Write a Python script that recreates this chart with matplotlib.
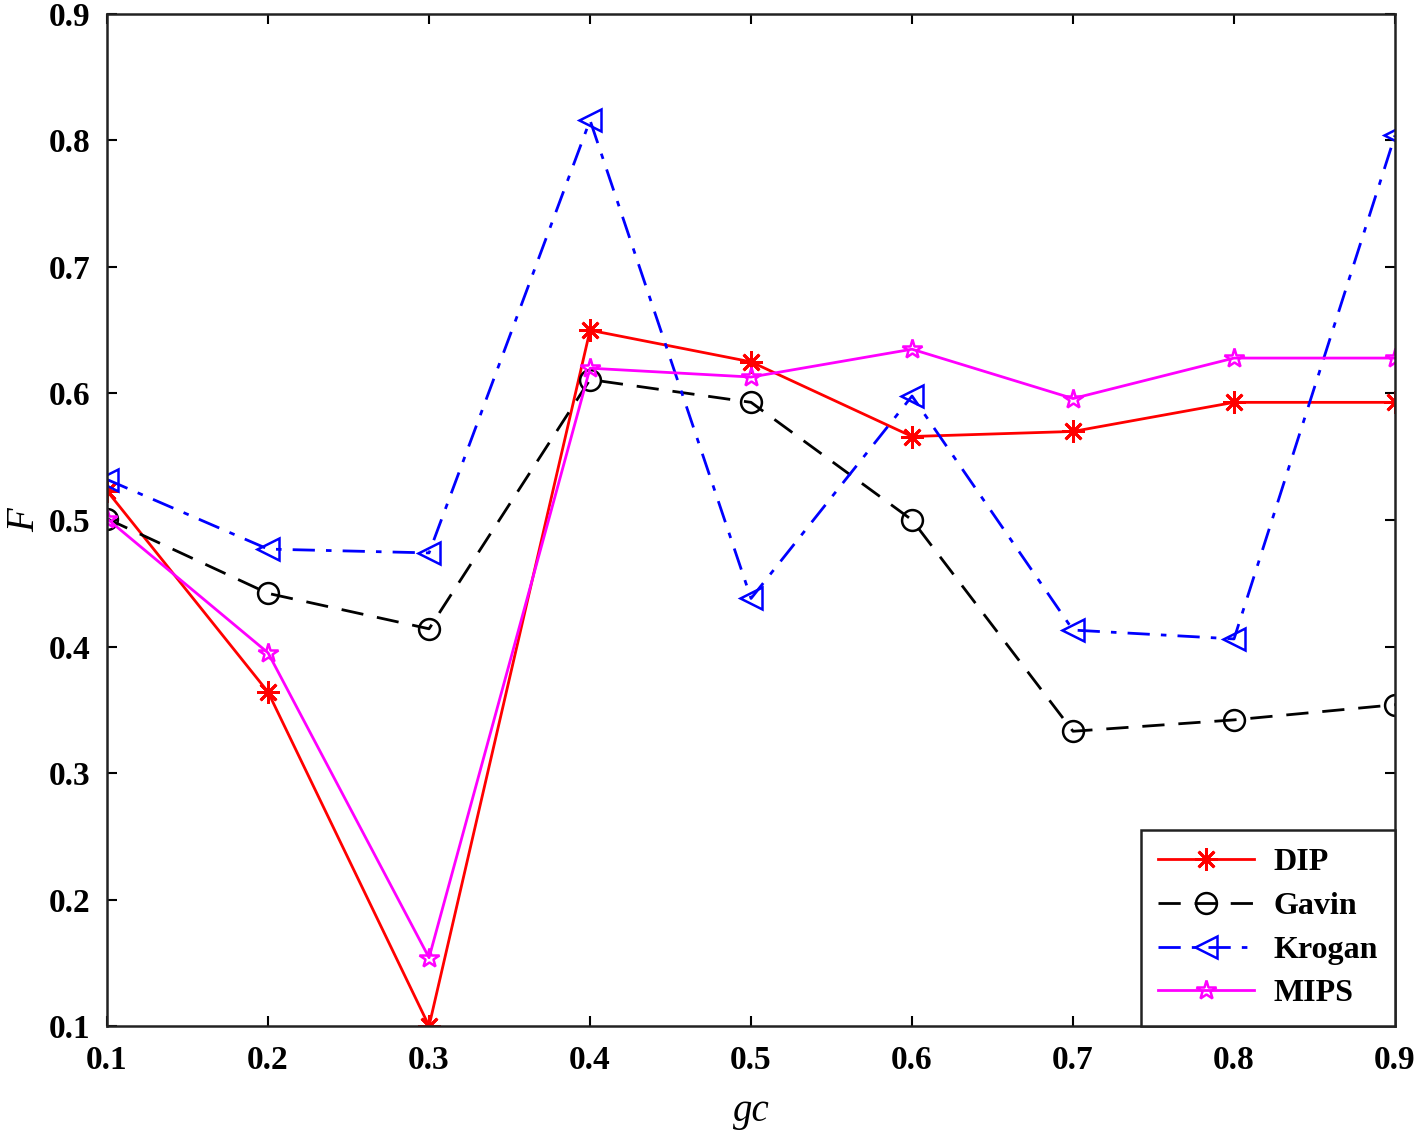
import matplotlib
matplotlib.use("Agg")
import matplotlib.pyplot as plt

gc = [0.1, 0.2, 0.3, 0.4, 0.5, 0.6, 0.7, 0.8, 0.9]
dip = [0.523, 0.364, 0.100, 0.650, 0.625, 0.566, 0.570, 0.593, 0.593]
gavin = [0.501, 0.442, 0.414, 0.611, 0.593, 0.500, 0.333, 0.342, 0.354]
krogan = [0.532, 0.477, 0.474, 0.816, 0.438, 0.598, 0.413, 0.406, 0.804]
mips = [0.501, 0.395, 0.154, 0.620, 0.613, 0.635, 0.596, 0.628, 0.628]

plt.rcParams['font.family'] = ['Liberation Serif', 'DejaVu Serif']

fig = plt.figure(figsize=(14.18, 11.35), dpi=100)
ax = fig.add_axes([0.0755, 0.096, 0.9083, 0.8917])

lw = 2.0
# MATLAB style asterisk: 8 arms
ax.plot(gc, dip, color='#ff0000', marker=(8, 2, 0), markersize=16, linewidth=lw,
        markeredgewidth=2.0, label='DIP')
ax.plot(gc, gavin, color='black', linestyle=(0, (8, 5)), marker='o', markersize=15,
        linewidth=lw, markerfacecolor='none', markeredgewidth=1.8, label='Gavin')
ax.plot(gc, krogan, color='#0000ff', linestyle=(0, (8, 4, 2, 4)), marker='<', markersize=16,
        linewidth=lw, markerfacecolor='none', markeredgewidth=1.8, label='Krogan')
ax.plot(gc, mips, color='#ff00ff', marker='*', markersize=15, linewidth=lw,
        markerfacecolor='none', markeredgewidth=1.8, label='MIPS')

ax.set_xlim(0.1, 0.9)
ax.set_ylim(0.1, 0.9)
ax.set_xticks(gc)
ax.set_yticks([0.1, 0.2, 0.3, 0.4, 0.5, 0.6, 0.7, 0.8, 0.9])
ax.tick_params(direction='in', length=7, width=1.5, top=True, right=True,
               labelsize=24)
ax.tick_params(axis='x', pad=14)
ax.tick_params(axis='y', pad=12)
for lab in ax.get_xticklabels() + ax.get_yticklabels():
    lab.set_fontweight('bold')
for s in ax.spines.values():
    s.set_linewidth(1.8)
    s.set_color('#222222')

ax.set_xlabel('gc', fontsize=28, style='italic', labelpad=12)
ax.set_ylabel('F', fontsize=28, style='italic', labelpad=4)

leg = ax.legend(loc='lower right', borderaxespad=0, fancybox=False, framealpha=1,
                edgecolor='#222222', prop={'size': 23, 'weight': 'bold'},
                handlelength=3.0, labelspacing=0.45, borderpad=0.55, handletextpad=0.6)
leg.get_frame().set_linewidth(1.8)

fig.savefig('out.png', dpi=100)
